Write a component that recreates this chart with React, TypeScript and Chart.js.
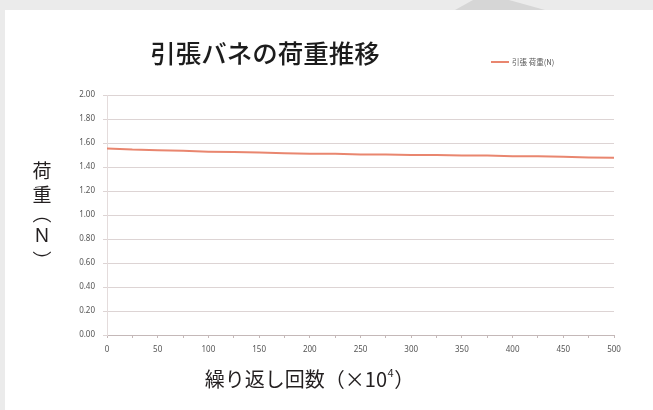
import React, { useEffect, useRef } from "react";
import { Chart, registerables } from "chart.js";

Chart.register(...registerables);

const chartTitle = "引張バネの荷重推移";
const seriesLabel = "引張 荷重(N)";
const xAxisTitleMain = "繰り返し回数（×10";
const xAxisTitleSup = "4";
const xAxisTitleEnd = "）";
const yAxisTitleChars = ["荷", "重", "︵", "N", "︶"];

const cycles = [0, 25, 50, 75, 100, 125, 150, 175, 200, 225, 250, 275, 300, 325, 350, 375, 400, 425, 450, 475, 500];
const loadN = [1.555, 1.545, 1.54, 1.535, 1.528, 1.525, 1.52, 1.515, 1.51, 1.51, 1.505, 1.505, 1.5, 1.5, 1.495, 1.495, 1.49, 1.49, 1.485, 1.48, 1.478];

const xMin = 0;
const xMax = 500;
const xStep = 25;
const xLabelEvery = 50;
const yMin = 0;
const yMax = 2;
const yStep = 0.2;

const LINE_COLOR = "#e9866f";
const JP = '"Noto Sans CJK JP", "Noto Sans", sans-serif';

const textPlugin = {
  id: "textPlugin",
  afterDraw(chart: any) {
    const { ctx, chartArea } = chart;
    const ca = chartArea;
    ctx.save();
    // Title
    ctx.fillStyle = "#1c1c1c";
    ctx.font = `500 25.5px ${JP}`;
    ctx.textAlign = "center";
    ctx.textBaseline = "middle";
    ctx.fillText(chartTitle, ca.left + 158, 53);

    // Legend
    const ds = chart.data.datasets[0];
    const ly = 62;
    const lx = ca.left + 384;
    ctx.strokeStyle = ds.borderColor;
    ctx.lineWidth = 2;
    ctx.beginPath();
    ctx.moveTo(lx, ly);
    ctx.lineTo(lx + 18, ly);
    ctx.stroke();
    ctx.fillStyle = "#555";
    ctx.font = `7.5px ${JP}`;
    ctx.textAlign = "left";
    ctx.fillText(ds.label, lx + 21, ly);

    // X axis title
    ctx.fillStyle = "#231f20";
    ctx.font = `20px ${JP}`;
    ctx.textAlign = "left";
    ctx.textBaseline = "alphabetic";
    const mainW = ctx.measureText(xAxisTitleMain).width;
    ctx.font = `11px ${JP}`;
    const supW = ctx.measureText(xAxisTitleSup).width;
    ctx.font = `20px ${JP}`;
    const endW = ctx.measureText(xAxisTitleEnd).width;
    const total = mainW + supW + endW;
    const cx = ca.left + 202;
    const x0 = cx - total / 2;
    const base = 387;
    ctx.fillText(xAxisTitleMain, x0, base);
    ctx.font = `11px ${JP}`;
    ctx.fillText(xAxisTitleSup, x0 + mainW + 0.5, base - 10);
    ctx.font = `20px ${JP}`;
    ctx.fillText(xAxisTitleEnd, x0 + mainW + supW + 1, base);

    // Y axis title (vertical)
    const yx = 42;
    const ys = [171, 195, 214, 237, 261];
    ctx.textAlign = "center";
    ctx.textBaseline = "middle";
    yAxisTitleChars.forEach((ch, i) => {
      if (ch === "N") {
        ctx.font = `19px "Noto Sans", sans-serif`;
      } else {
        ctx.font = `19px ${JP}`;
      }
      ctx.fillText(ch, yx, ys[i]);
    });
    ctx.restore();
  },
};

export default function App() {
  const canvasRef = useRef<HTMLCanvasElement | null>(null);

  useEffect(() => {
    const canvas = canvasRef.current;
    if (!canvas) return;
    const chart = new Chart(canvas, {
      type: "line",
      data: {
        labels: cycles,
        datasets: [
          {
            label: seriesLabel,
            data: cycles.map((c, i) => ({ x: c, y: loadN[i] })),
            borderColor: LINE_COLOR,
            backgroundColor: LINE_COLOR,
            borderWidth: 2,
            pointRadius: 0,
            tension: 0,
            fill: false,
          },
        ],
      },
      options: {
        responsive: false,
        animation: false,
        layout: { padding: { left: 0, top: 95, right: 39, bottom: 45 } },
        plugins: {
          legend: { display: false },
          title: { display: false },
          tooltip: { enabled: false },
        },
        scales: {
          x: {
            type: "linear",
            min: xMin,
            max: xMax,
            afterFit: (scale: any) => {
              scale.height = 30;
            },
            ticks: {
              stepSize: xStep,
              autoSkip: false,
              maxRotation: 0,
              padding: 7,
              color: "#555",
              font: { size: 8, family: '"Noto Sans", sans-serif' },
              callback: (v: any) => (Number(v) % xLabelEvery === 0 ? String(v) : ""),
            },
            grid: {
              drawOnChartArea: false,
              drawTicks: true,
              tickLength: 3,
              tickColor: "#c4b8b8",
            },
            border: { color: "#c4b8b8", width: 1 },
          },
          y: {
            min: yMin,
            max: yMax,
            afterFit: (scale: any) => {
              scale.width = 107;
            },
            ticks: {
              stepSize: yStep,
              padding: 8,
              color: "#555",
              font: { size: 8, family: '"Noto Sans", sans-serif' },
              callback: (v: any) => Number(v).toFixed(2),
            },
            grid: {
              color: "#ddd4d4",
              lineWidth: 1,
              drawTicks: true,
              tickLength: 4,
            },
            border: { color: "#e4dcdc", width: 1 },
          },
        },
      },
      plugins: [textPlugin],
    });
    return () => chart.destroy();
  }, []);

  return (
    <div
      style={{
        position: "fixed",
        left: 0,
        top: 0,
        width: 653,
        height: 410,
        background: "#ebebeb",
        overflow: "hidden",
      }}
    >
      <div
        style={{
          position: "absolute",
          left: 455,
          top: 0,
          width: 90,
          height: 10,
          background: "#d6d6d6",
          clipPath: "polygon(20% 0, 60% 0, 100% 100%, 0 100%)",
        }}
      />
      <div
        style={{
          position: "absolute",
          left: 5,
          top: 10,
          width: 648,
          height: 400,
          background: "#ffffff",
        }}
      />
      <canvas
        ref={canvasRef}
        width={653}
        height={410}
        style={{ position: "absolute", left: 0, top: 0, width: 653, height: 410 }}
      />
    </div>
  );
}
